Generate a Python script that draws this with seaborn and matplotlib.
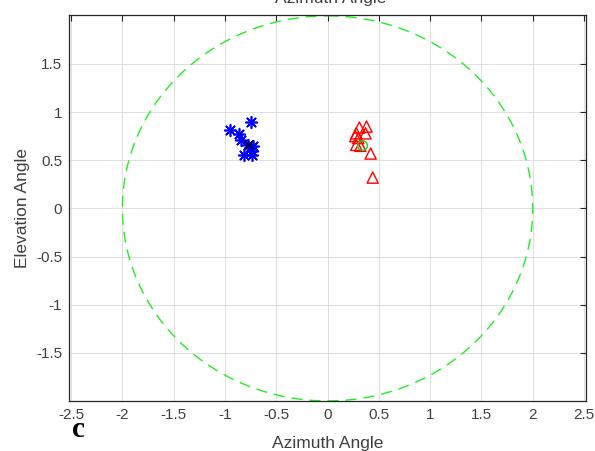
import numpy as np
import pandas as pd
import matplotlib
matplotlib.use("Agg")
import matplotlib.pyplot as plt
import seaborn as sns

# Source A (blue stars)
blue_az = [-0.75, -0.95, -0.86, -0.84, -0.78, -0.76, -0.74, -0.81, -0.74, -0.73]
blue_el = [0.90, 0.81, 0.77, 0.71, 0.66, 0.63, 0.60, 0.55, 0.55, 0.65]
# Source B (red triangles)
red_az = [0.31, 0.38, 0.28, 0.37, 0.27, 0.28, 0.32, 0.42, 0.44, 0.30]
red_el = [0.84, 0.85, 0.78, 0.78, 0.75, 0.66, 0.65, 0.57, 0.32, 0.73]
# estimated centres
centre_a = (-0.77, 0.66)
centre_b = (0.34, 0.66)
radius = 2.0

xticks = [-2.5, -2, -1.5, -1, -0.5, 0, 0.5, 1, 1.5, 2, 2.5]
yticks = [-1.5, -1, -0.5, 0, 0.5, 1, 1.5]

sns.set_theme(style="whitegrid")
plt.rcParams['font.family'] = ['Liberation Sans', 'DejaVu Sans']

fig = plt.figure(figsize=(5.95, 4.51), dpi=100)
ax = fig.add_axes([0.116, 0.111, 0.869, 0.856])
ax.set_facecolor('white')

theta = np.linspace(0, 2 * np.pi, 400)
circle_df = pd.DataFrame({'x': radius * np.sin(theta), 'y': radius * np.cos(theta)})
sns.lineplot(data=circle_df, x='x', y='y', sort=False, color='#22ee22', lw=1.0,
             linestyle=(0, (8, 5)), ax=ax, zorder=2)

a_df = pd.DataFrame({'az': blue_az, 'el': blue_el})
b_df = pd.DataFrame({'az': red_az, 'el': red_el})
sns.scatterplot(data=a_df, x='az', y='el', marker=(8, 2, 0), s=70, color='blue',
                linewidth=1.2, ax=ax, zorder=3)
sns.scatterplot(data=b_df, x='az', y='el', marker='^', s=65, facecolor='none',
                edgecolor='red', linewidth=1.0, ax=ax, zorder=3)
ax.plot(*centre_a, marker='x', color='black', ms=6, mew=1.2, zorder=4)
ax.plot(*centre_b, marker='o', mfc='none', mec='#22cc22', ms=7, mew=1.0, zorder=4)

ax.set_xlim(-2.52, 2.52)
ax.set_ylim(-2.0, 2.01)
ax.set_xticks(xticks)
ax.set_xticklabels(['-2.5', '-2', '-1.5', '-1', '-0.5', '0', '0.5', '1', '1.5', '2', '2.5'])
ax.set_yticks(yticks)
ax.set_yticklabels(['-1.5', '-1', '-0.5', '0', '0.5', '1', '1.5'])
ax.grid(True, color='#dedede', lw=0.7)
for s in ax.spines.values():
    s.set_visible(True)
    s.set_color('#262626')
    s.set_linewidth(0.9)
ax.tick_params(direction='in', length=4, width=0.8, colors='#262626', labelsize=11,
               top=True, right=True, labelcolor='#404040', pad=5)
ax.set_xlabel('Azimuth Angle', fontsize=12.5, color='#404040', labelpad=10)
ax.set_ylabel('Elevation Angle', fontsize=12.5, color='#404040', labelpad=4)

fig.text(0.555, 1 - 3 / 451, 'Azimuth Angle', ha='center', va='baseline',
         fontsize=12.5, color='#404040')
fig.text(0.121, 0.031, 'c', family='Liberation Serif', fontweight='bold',
         fontsize=21, ha='left', va='baseline', color='black')

fig.savefig('out.png', dpi=100)
